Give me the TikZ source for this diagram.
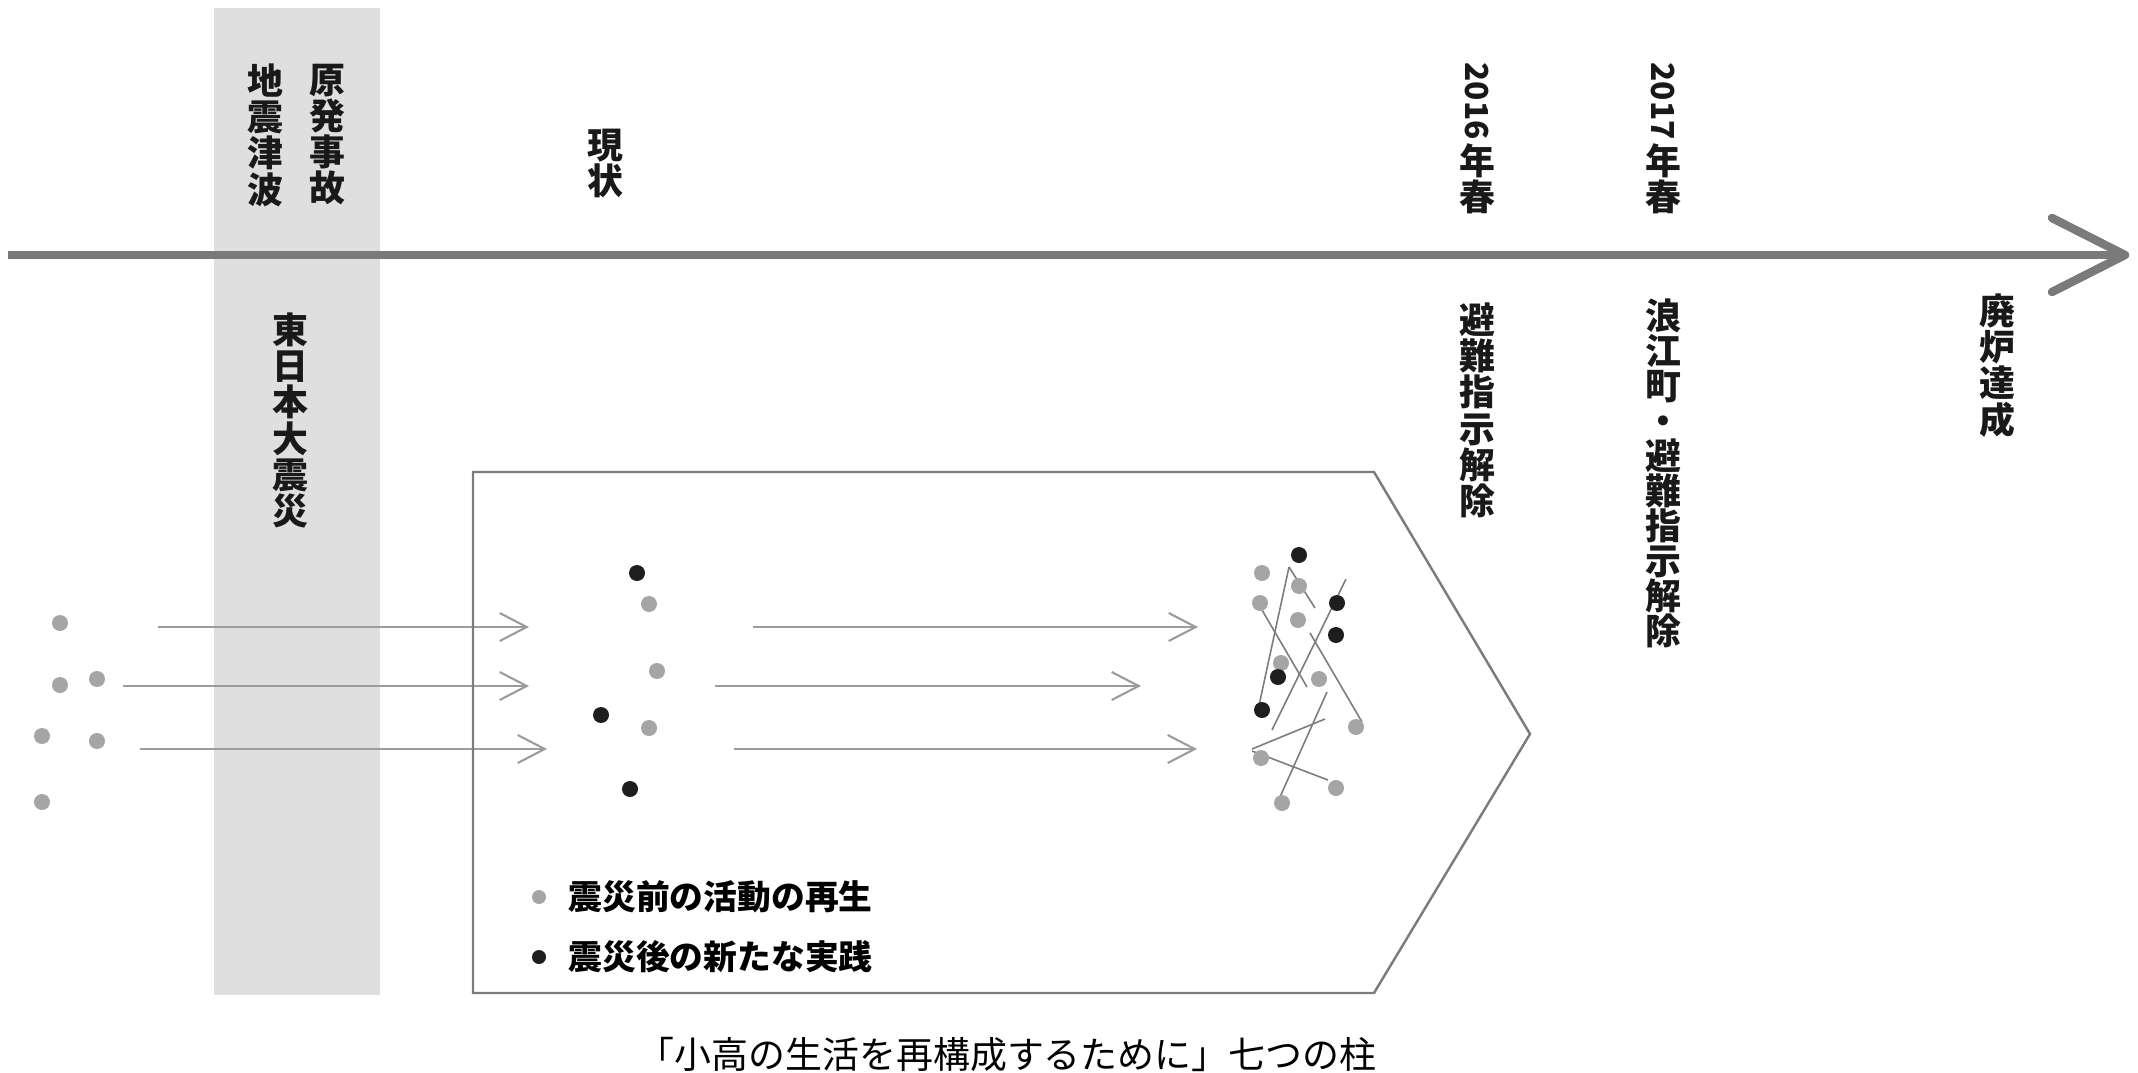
\documentclass[tikz,border=0pt]{standalone}
\usepackage{fontspec}
\setmainfont{Noto Sans CJK JP}
\usetikzlibrary{arrows.meta,calc}
\definecolor{bandgray}{HTML}{DFDFDF}
\definecolor{axisgray}{HTML}{7A7A7A}
\definecolor{flowgray}{HTML}{9C9C9C}
\definecolor{dotgray}{HTML}{A5A5A5}
\definecolor{dotblack}{HTML}{1E1E1E}
\definecolor{edgegray}{HTML}{7C7C7C}
\tikzset{
  vlabel/.style={anchor=north, align=center, inner sep=0pt, text=black!90,
    font=\fontsize{10.2}{10.3}\selectfont\bfseries},
  gdot/.style={circle, fill=dotgray, minimum size=0.16cm, inner sep=0pt},
  bdot/.style={circle, fill=dotblack, minimum size=0.16cm, inner sep=0pt},
  flow/.style={draw=flowgray, line width=0.6pt, -{Straight Barb[length=0.27cm, width=0.28cm]}},
  web/.style={draw=edgegray, line width=0.45pt},
  axisline/.style={draw=axisgray, line width=2.4pt},
  boxline/.style={draw=edgegray, line width=0.7pt, line join=miter},
  legendtext/.style={anchor=west, inner sep=0pt, font=\fontsize{9.6}{10}\selectfont\bfseries},
  captiontext/.style={inner sep=0pt, font=\fontsize{10.5}{11}\selectfont},
}
\begin{document}
\begin{tikzpicture}[x=0.01cm, y=-0.01cm]
\useasboundingbox (0,0) rectangle (2138,1072);
% disaster band
\fill[bandgray] (214,8) rectangle (380,995);
% timeline
\coordinate (tlA) at (8,255);
\coordinate (tlB) at (2125,255);
\draw[axisline] (tlA) -- (tlB);
\draw[axisline, line cap=round, line join=round] ($(tlB)+(-73,-37)$) -- (tlB) -- ($(tlB)+(-73,37)$);
% top labels
\node[vlabel] (jishin) at (265,63) {地\\震\\津\\波};
\node[vlabel] (genpatsu) at (327,63) {原\\発\\事\\故};
\node[vlabel] (genjo) at (605,128) {現\\状};
\node[vlabel] (y2016) at (1477,62) {{\fontsize{9}{9}\selectfont\rotatebox{-90}{2016}}\\年\\春};
\node[vlabel] (y2017) at (1663,62) {{\fontsize{9}{9}\selectfont\rotatebox{-90}{2017}}\\年\\春};
% bottom labels
\node[vlabel] (higashi) at (290,312) {東\\日\\本\\大\\震\\災};
\node[vlabel] (hinan1) at (1477,302) {避\\難\\指\\示\\解\\除};
\node[vlabel, font=\fontsize{10.2}{9.95}\selectfont\bfseries] (hinan2) at (1663,298) {浪\\江\\町\\・\\避\\難\\指\\示\\解\\除};
\node[vlabel] (hairo) at (1997,293) {廃\\炉\\達\\成};
% left dots
\node[gdot] (l1) at (60,623) {};
\node[gdot] (l2) at (60,685) {};
\node[gdot] (l3) at (97,679) {};
\node[gdot] (l4) at (42,736) {};
\node[gdot] (l5) at (97,741) {};
\node[gdot] (l6) at (42,802) {};
% left flow arrows
\coordinate (fa1s) at (158,627); \coordinate (fa1e) at (529,627);
\coordinate (fa2s) at (123,686); \coordinate (fa2e) at (529,686);
\coordinate (fa3s) at (140,749); \coordinate (fa3e) at (547,749);
\draw[flow] (fa1s) -- (fa1e);
\draw[flow] (fa2s) -- (fa2e);
\draw[flow] (fa3s) -- (fa3e);
% pentagon box
\coordinate (bx1) at (473,472);
\coordinate (bx2) at (1374,472);
\coordinate (bx3) at (1530,734);
\coordinate (bx4) at (1374,993);
\coordinate (bx5) at (473,993);
\draw[boxline] (bx1) -- (bx2) -- (bx3) -- (bx4) -- (bx5) -- cycle;
% middle dots
\node[bdot] (m1) at (637,573) {};
\node[gdot] (m2) at (649,604) {};
\node[gdot] (m3) at (657,671) {};
\node[bdot] (m4) at (601,715) {};
\node[gdot] (m5) at (649,728) {};
\node[bdot] (m6) at (630,789) {};
% middle flow arrows
\coordinate (fb1s) at (753,627); \coordinate (fb1e) at (1198,627);
\coordinate (fb2s) at (715,686); \coordinate (fb2e) at (1141,686);
\coordinate (fb3s) at (734,749); \coordinate (fb3e) at (1197,749);
\draw[flow] (fb1s) -- (fb1e);
\draw[flow] (fb2s) -- (fb2e);
\draw[flow] (fb3s) -- (fb3e);
% right cluster lines
\draw[web] (1289,567) -- (1258,710);
\draw[web] (1289,567) -- (1315,608);
\draw[web] (1262,610) -- (1307,687);
\draw[web] (1346,579) -- (1272,730);
\draw[web] (1310,633) -- (1362,722);
\draw[web] (1327,692) -- (1280,797);
\draw[web] (1252,749) -- (1325,719);
\draw[web] (1252,751) -- (1328,780);
% right cluster dots
\node[bdot] (r1) at (1299,555) {};
\node[gdot] (r2) at (1262,573) {};
\node[gdot] (r3) at (1299,586) {};
\node[gdot] (r4) at (1260,603) {};
\node[bdot] (r5) at (1337,603) {};
\node[gdot] (r6) at (1298,620) {};
\node[bdot] (r7) at (1336,635) {};
\node[gdot] (r8) at (1281,663) {};
\node[bdot] (r9) at (1278,677) {};
\node[gdot] (r10) at (1319,679) {};
\node[bdot] (r11) at (1262,710) {};
\node[gdot] (r12) at (1356,727) {};
\node[gdot] (r13) at (1261,758) {};
\node[gdot] (r14) at (1336,788) {};
\node[gdot] (r15) at (1282,803) {};
% legend
\node[gdot, minimum size=0.14cm] (lg1) at (539,897) {};
\node[legendtext] (lgt1) at (568,897) {震災前の活動の再生};
\node[bdot, minimum size=0.14cm] (lg2) at (539,957) {};
\node[legendtext] (lgt2) at (568,957) {震災後の新たな実践};
% caption
\node[captiontext] (cap) at (1007,1054) {「小高の生活を再構成するために」七つの柱};
\end{tikzpicture}
\end{document}
